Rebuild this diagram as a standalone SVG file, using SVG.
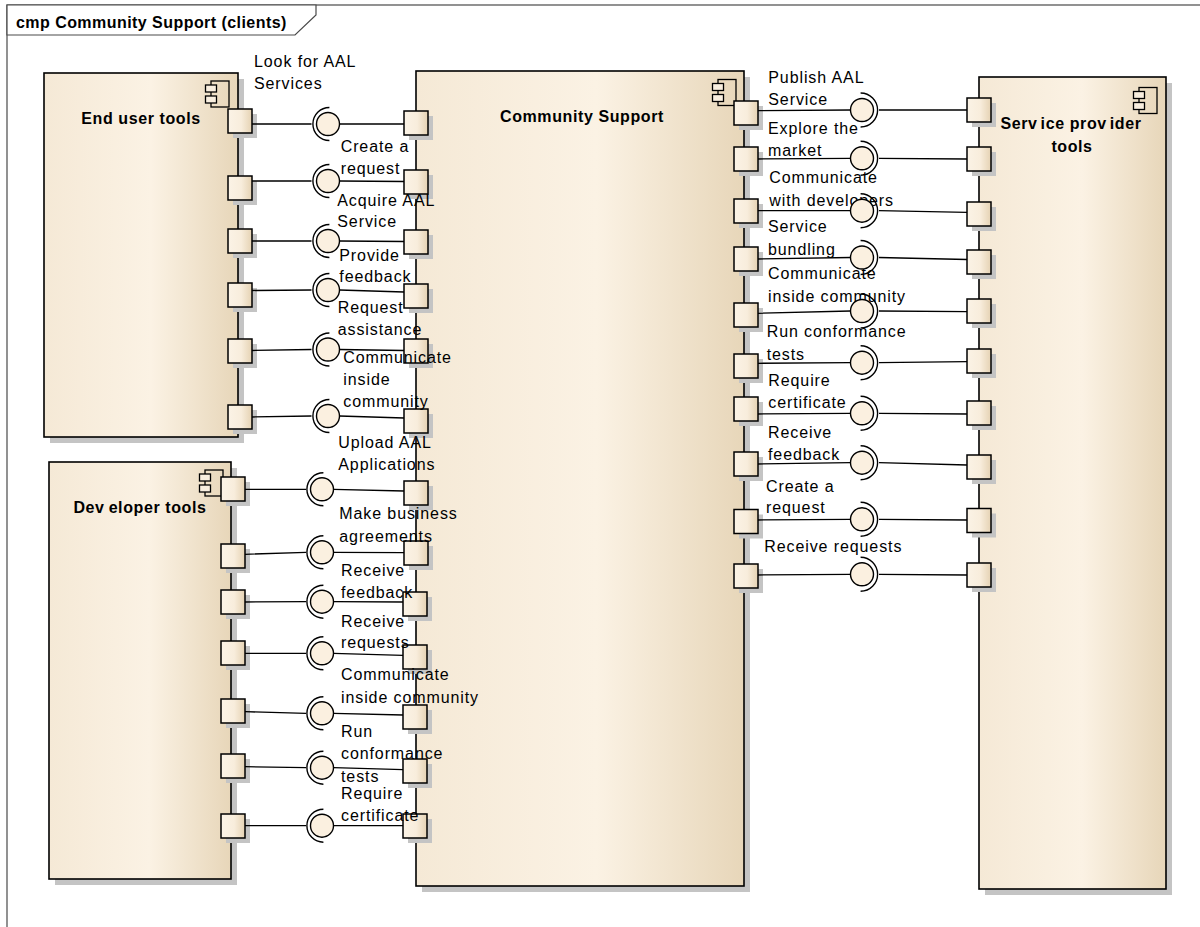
<svg xmlns="http://www.w3.org/2000/svg" xmlns:xlink="http://www.w3.org/1999/xlink" width="1200" height="927" viewBox="0 0 1200 927">
  <defs>
    <linearGradient id="boxGrad" x1="0" y1="0" x2="1" y2="0">
      <stop offset="0" stop-color="#f5e9d6"/>
      <stop offset="0.55" stop-color="#fbf2e4"/>
      <stop offset="1" stop-color="#e7d6b9"/>
    </linearGradient>
    <linearGradient id="portGrad" x1="0" y1="0" x2="1" y2="0">
      <stop offset="0" stop-color="#fbf3e6"/>
      <stop offset="0.55" stop-color="#f8eddc"/>
      <stop offset="1" stop-color="#e5d2b3"/>
    </linearGradient>
    <style>
      .frame { fill: none; stroke: #4a4a4a; stroke-width: 1.2; }
      .tab { fill: #ffffff; stroke: #4a4a4a; stroke-width: 1.2; }
      .shadow { fill: #c4c4c4; }
      .box { fill: url(#boxGrad); stroke: #000; stroke-width: 1.6; }
      .port { fill: url(#portGrad); stroke: #000; stroke-width: 1.5; }
      .icon-main { fill: none; stroke: #000; stroke-width: 1.3; }
      .icon-tab { fill: #f8eedf; stroke: #000; stroke-width: 1.3; }
      .wire { fill: none; stroke: #000; stroke-width: 1.3; }
      .ball { fill: #fbf0e0; stroke: #000; stroke-width: 1.4; }
      .sock { fill: none; stroke: #000; stroke-width: 1.4; }
      .lbl { font-family: "Liberation Sans", Arial, sans-serif; font-size: 16px; letter-spacing: 0.9px; fill: #000; }
      .ttl { font-family: "Liberation Sans", Arial, sans-serif; font-size: 16px; font-weight: bold; letter-spacing: 0.6px; fill: #000; text-anchor: middle; }
      .hdr { font-family: "Liberation Sans", Arial, sans-serif; font-size: 16px; font-weight: bold; letter-spacing: 0.45px; fill: #000; }
    </style>
    <!-- component stereotype icon, origin at top-left of the main rectangle -->
    <g id="cmpIcon">
      <rect class="icon-main" x="0" y="0" width="18" height="26"/>
      <rect class="icon-tab" x="-5.5" y="4" width="11" height="7"/>
      <rect class="icon-tab" x="-5.5" y="15" width="11" height="7"/>
    </g>
    <!-- port square with its shadow, origin at top-left -->
    <g id="port">
      <rect class="shadow" x="5" y="5" width="24" height="24"/>
      <rect class="port" x="0" y="0" width="24" height="24"/>
    </g>
    <!-- provided ball with required socket opening to the right -->
    <g id="lollyL">
      <path class="sock" d="M 1.4,-16.5 A 16.5 16.5 0 1 0 1.4,16.5"/>
      <circle class="ball" cx="0" cy="0" r="11.5"/>
    </g>
    <!-- provided ball with required socket opening to the left -->
    <g id="lollyR">
      <path class="sock" d="M -1.4,-17 A 17 17 0 1 1 -1.4,17"/>
      <circle class="ball" cx="0" cy="0" r="11.5"/>
    </g>
  </defs>

  <rect width="1200" height="927" fill="#ffffff"/>

  <!-- diagram frame -->
  <g id="frame">
    <rect class="frame" x="7" y="5" width="1210" height="940"/>
    <polygon class="tab" points="7,5 316,5 316,15 295,35 7,35"/>
    <text class="hdr" x="16" y="28">cmp Community Support (clients)</text>
  </g>

  <!-- End user tools -->
  <g id="end-user-tools">
    <rect class="shadow" x="50" y="79" width="194" height="364"/>
    <rect class="box" x="44" y="73" width="194" height="364"/>
    <use xlink:href="#cmpIcon" x="211" y="81"/>
    <text class="ttl" x="141" y="124">End user tools</text>
    <use xlink:href="#port" x="228" y="109"/>
    <use xlink:href="#port" x="228" y="176"/>
    <use xlink:href="#port" x="228" y="229"/>
    <use xlink:href="#port" x="228" y="283"/>
    <use xlink:href="#port" x="228" y="339"/>
    <use xlink:href="#port" x="228" y="405"/>
  </g>

  <!-- Developer tools -->
  <g id="developer-tools">
    <rect class="shadow" x="55" y="468" width="182" height="417"/>
    <rect class="box" x="49" y="462" width="182" height="417"/>
    <use xlink:href="#cmpIcon" x="205" y="470"/>
    <text class="ttl" x="140" y="513">Dev<tspan dx="4">eloper tools</tspan></text>
    <use xlink:href="#port" x="221" y="477"/>
    <use xlink:href="#port" x="221" y="544"/>
    <use xlink:href="#port" x="221" y="590"/>
    <use xlink:href="#port" x="221" y="641"/>
    <use xlink:href="#port" x="221" y="699"/>
    <use xlink:href="#port" x="221" y="754"/>
    <use xlink:href="#port" x="221" y="814"/>
  </g>

  <!-- Community Support -->
  <g id="community-support">
    <rect class="shadow" x="422" y="77" width="328" height="815"/>
    <rect class="box" x="416" y="71" width="328" height="815"/>
    <use xlink:href="#cmpIcon" x="718" y="79.5"/>
    <text class="ttl" x="582" y="122">Community Support</text>
    <!-- left side ports -->
    <use xlink:href="#port" x="404" y="111"/>
    <use xlink:href="#port" x="404" y="170"/>
    <use xlink:href="#port" x="404" y="230"/>
    <use xlink:href="#port" x="404" y="284"/>
    <use xlink:href="#port" x="404" y="339"/>
    <use xlink:href="#port" x="404" y="409"/>
    <use xlink:href="#port" x="404" y="481"/>
    <use xlink:href="#port" x="404" y="541"/>
    <use xlink:href="#port" x="403" y="592"/>
    <use xlink:href="#port" x="403" y="645"/>
    <use xlink:href="#port" x="403" y="705"/>
    <use xlink:href="#port" x="403" y="759"/>
    <use xlink:href="#port" x="403" y="814"/>
    <!-- right side ports -->
    <use xlink:href="#port" x="734" y="101"/>
    <use xlink:href="#port" x="734" y="147"/>
    <use xlink:href="#port" x="734" y="199"/>
    <use xlink:href="#port" x="734" y="247"/>
    <use xlink:href="#port" x="734" y="303"/>
    <use xlink:href="#port" x="734" y="354"/>
    <use xlink:href="#port" x="734" y="397"/>
    <use xlink:href="#port" x="734" y="452"/>
    <use xlink:href="#port" x="734" y="509.5"/>
    <use xlink:href="#port" x="734" y="564"/>
  </g>

  <!-- Service provider tools -->
  <g id="service-provider-tools">
    <rect class="shadow" x="985" y="83" width="187" height="812"/>
    <rect class="box" x="979" y="77" width="187" height="812"/>
    <use xlink:href="#cmpIcon" x="1139" y="87.5"/>
    <text class="ttl" x="1071" y="129.3">Serv<tspan dx="3">ice prov</tspan><tspan dx="3">ider</tspan></text>
    <text class="ttl" x="1072" y="151.7">tools</text>
    <use xlink:href="#port" x="967" y="98"/>
    <use xlink:href="#port" x="967" y="147"/>
    <use xlink:href="#port" x="967" y="202"/>
    <use xlink:href="#port" x="967" y="250"/>
    <use xlink:href="#port" x="967" y="299"/>
    <use xlink:href="#port" x="967" y="349"/>
    <use xlink:href="#port" x="967" y="401"/>
    <use xlink:href="#port" x="967" y="455"/>
    <use xlink:href="#port" x="967" y="508.5"/>
    <use xlink:href="#port" x="967" y="563"/>
  </g>

  <!-- interface connectors -->
  <g id="connectors">
    <!-- interface names -->
    <g class="lbl">
      <text x="254" y="66.7">Look for AAL</text>
      <text x="254" y="89.3">Services</text>
      <text x="340.7" y="152.3">Create a</text>
      <text x="340.7" y="174">request</text>
      <text x="337.3" y="205.7">Acquire AAL</text>
      <text x="337.3" y="227.3">Service</text>
      <text x="339.3" y="261">Provide</text>
      <text x="339.3" y="282.3">feedback</text>
      <text x="337.7" y="313.3">Request</text>
      <text x="337.7" y="335.3">assistance</text>
      <text x="343.3" y="363.3">Communicate</text>
      <text x="343.3" y="385">inside</text>
      <text x="343.3" y="407.3">community</text>

      <text x="338.3" y="448.3">Upload AAL</text>
      <text x="338.3" y="470">Applications</text>
      <text x="339.3" y="519">Make business</text>
      <text x="339.3" y="541.7">agreements</text>
      <text x="341" y="576">Receive</text>
      <text x="341" y="597.7">feedback</text>
      <text x="341" y="626.7">Receive</text>
      <text x="341" y="648.3">requests</text>
      <text x="341" y="680">Communicate</text>
      <text x="341" y="702.7">inside community</text>
      <text x="341" y="736.7">Run</text>
      <text x="341" y="759">conformance</text>
      <text x="341" y="781.7">tests</text>
      <text x="341" y="799">Require</text>
      <text x="341" y="821">certificate</text>

      <text x="768.3" y="82.7">Publish AAL</text>
      <text x="768.3" y="105">Service</text>
      <text x="768" y="134">Explore the</text>
      <text x="768" y="155.7">market</text>
      <text x="769.3" y="183.3">Communicate</text>
      <text x="769.3" y="205.7">with developers</text>
      <text x="768" y="232.3">Service</text>
      <text x="768" y="254.5">bundling</text>
      <text x="768" y="279">Communicate</text>
      <text x="768" y="301.7">inside community</text>
      <text x="766.7" y="337.3">Run conformance</text>
      <text x="766.7" y="360">tests</text>
      <text x="768.3" y="385.7">Require</text>
      <text x="768.3" y="407.7">certificate</text>
      <text x="768" y="438.3">Receive</text>
      <text x="768" y="460">feedback</text>
      <text x="766" y="491.7">Create a</text>
      <text x="766" y="512.7">request</text>
      <text x="764.3" y="551.7">Receive requests</text>
    </g>

    <!-- End user tools to Community Support -->
    <path class="wire" d="M252,124 L311.5,124 M339.5,124 L404,124"/>
    <path class="wire" d="M252,181 L311.5,181 M339.5,181 L404,181.5"/>
    <path class="wire" d="M252,241 L311.5,241 M339.5,241 L404,241.5"/>
    <path class="wire" d="M252,290.5 L311.5,290 M339.5,290 L404,292"/>
    <path class="wire" d="M252,350.5 L311.5,349.5 M339.5,349.5 L404,350.5"/>
    <path class="wire" d="M252,417 L311.5,416 M339.5,416 L404,418"/>
    <use xlink:href="#lollyL" x="328" y="124"/>
    <use xlink:href="#lollyL" x="328" y="181"/>
    <use xlink:href="#lollyL" x="328" y="241"/>
    <use xlink:href="#lollyL" x="328" y="290"/>
    <use xlink:href="#lollyL" x="328" y="349.5"/>
    <use xlink:href="#lollyL" x="328" y="416"/>

    <!-- Developer tools to Community Support -->
    <path class="wire" d="M245,489.3 L306,489.3 M333.5,489.3 L404,491"/>
    <path class="wire" d="M245,554.3 L306,552.3 M333.5,552.3 L404,552.7"/>
    <path class="wire" d="M245,602 L306,601.7 M333.5,601.7 L403,602"/>
    <path class="wire" d="M245,653.3 L306,653.3 M333.5,653.3 L403,655.3"/>
    <path class="wire" d="M245,711.7 L306,713.3 M333.5,713.3 L403,715"/>
    <path class="wire" d="M245,766.7 L306,767.7 M333.5,767.7 L403,769.7"/>
    <path class="wire" d="M245,825.7 L306,825.7 M333.5,825.7 L403,825.7"/>
    <use xlink:href="#lollyL" x="322" y="489.3"/>
    <use xlink:href="#lollyL" x="322" y="552.3"/>
    <use xlink:href="#lollyL" x="322" y="601.7"/>
    <use xlink:href="#lollyL" x="322" y="653.3"/>
    <use xlink:href="#lollyL" x="322" y="713.3"/>
    <use xlink:href="#lollyL" x="322" y="767.7"/>
    <use xlink:href="#lollyL" x="322" y="825.7"/>

    <!-- Community Support to Service provider tools -->
    <path class="wire" d="M758,110.7 L850.5,110 M879,110 L967,110"/>
    <path class="wire" d="M758,159 L850.5,158.3 M879,158.3 L967,159"/>
    <path class="wire" d="M758,210.7 L850.5,210.7 M879,210.7 L967,212.3"/>
    <path class="wire" d="M758,259 L850.5,257.5 M879,257.5 L967,259.5"/>
    <path class="wire" d="M758,313.3 L850.5,311 M879,311 L967,311.7"/>
    <path class="wire" d="M758,363.3 L850.5,362.7 M879,362.7 L967,361.7"/>
    <path class="wire" d="M758,414 L850.5,413.3 M879,413.3 L967,414"/>
    <path class="wire" d="M758,464 L850.5,462.7 M879,462.7 L967,465"/>
    <path class="wire" d="M758,520 L850.5,519.3 M879,519.3 L967,520"/>
    <path class="wire" d="M758,575 L850.5,574.3 M879,574.3 L967,575"/>
    <use xlink:href="#lollyR" x="862" y="110"/>
    <use xlink:href="#lollyR" x="862" y="158.3"/>
    <use xlink:href="#lollyR" x="862" y="210.7"/>
    <use xlink:href="#lollyR" x="862" y="257.5"/>
    <use xlink:href="#lollyR" x="862" y="311"/>
    <use xlink:href="#lollyR" x="862" y="362.7"/>
    <use xlink:href="#lollyR" x="862" y="413.3"/>
    <use xlink:href="#lollyR" x="862" y="462.7"/>
    <use xlink:href="#lollyR" x="862" y="519.3"/>
    <use xlink:href="#lollyR" x="862" y="574.3"/>
  </g>
</svg>
